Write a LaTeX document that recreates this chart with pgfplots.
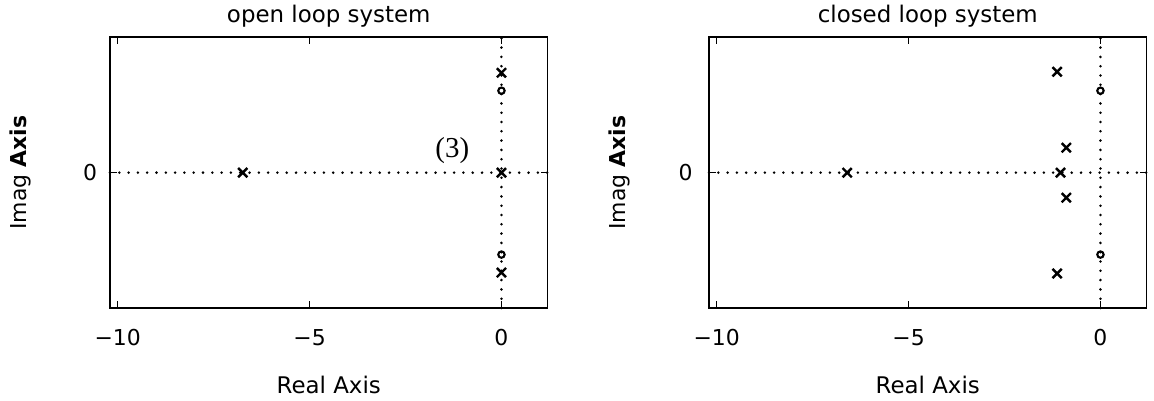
\documentclass[border=0pt]{standalone}
\usepackage{fontspec}
\setmainfont{DejaVu Sans}
\newfontfamily\tnr{Liberation Serif}
\usepackage{pgfplots}
\pgfplotsset{compat=1.18}
\begin{document}
\begin{tikzpicture}[x=1bp,y=1bp]
\pgfplotsset{
 pz/.style={
  scale only axis,
  width=437.5bp, height=270.7bp,
  xmin=-10.2, xmax=1.2, ymin=-1.5, ymax=1.5,
  axis line style={line width=1.8bp},
  every tick/.style={black, line width=1.4bp},
  major tick length=7bp,
  tick align=inside,
  xtick={-10,-5,0}, xticklabels={−10,−5,0},
  ytick={0}, yticklabels={0},
  xtick pos=both, ytick pos=both,
  xticklabel pos=lower, yticklabel pos=left,
  tick label style={font=\fontsize{22}{26}\selectfont},
  xticklabel style={anchor=base, yshift=-37bp},
  title style={at={(axis description cs:0.5,1)}, anchor=base, yshift=9.3bp, font=\fontsize{23}{27}\selectfont},
  xlabel style={at={(axis description cs:0.5,0)}, anchor=base, yshift=-85bp, font=\fontsize{23}{27}\selectfont},
  ylabel style={at={(axis description cs:-0.19,0.5)}, anchor=base, font=\fontsize{22}{26}\selectfont},
  xlabel={Real Axis}, ylabel={Imag \textbf{Axis}},
  clip=false,
 },
 dotl/.style={black, line width=2.8bp, line cap=round, dash pattern=on 0bp off 9.3bp, forget plot},
 xm/.style={only marks, mark=x, mark size=6.5bp, mark options={line width=2.4bp}, black},
 om/.style={only marks, mark=o, mark size=3.2bp, mark options={line width=2.1bp}, black},
}
\begin{axis}[pz, at={(110bp,93bp)}, anchor=south west,
  title={open loop system},
  yticklabel style={anchor=center, xshift=-20bp}]
\addplot[dotl] coordinates {(-10.2,0) (1.2,0)};
\addplot[dotl] coordinates {(0,-1.5) (0,1.5)};
\addplot[xm] coordinates {(-6.74,0) (0,0) (0,1.107) (0,-1.107)};
\addplot[om] coordinates {(0,0.908) (0,-0.908)};
\node[font=\tnr\fontsize{29}{33}\selectfont] at (axis cs:-1.28,0.249) {(3)};
\end{axis}
\begin{axis}[pz, at={(709bp,93bp)}, anchor=south west,
  title={closed loop system},
  yticklabel style={anchor=center, xshift=-23.5bp}]
\addplot[dotl] coordinates {(-10.2,0) (1.2,0)};
\addplot[dotl] coordinates {(0,-1.5) (0,1.5)};
\addplot[xm] coordinates {(-6.6,0) (-1.04,0) (-1.13,1.118) (-1.13,-1.118) (-0.89,0.277) (-0.89,-0.277)};
\addplot[om] coordinates {(0,0.908) (0,-0.908)};
\end{axis}
\pgfresetboundingbox
\path[use as bounding box] (0,0) rectangle (1154bp,401bp);
\end{tikzpicture}
\end{document}
